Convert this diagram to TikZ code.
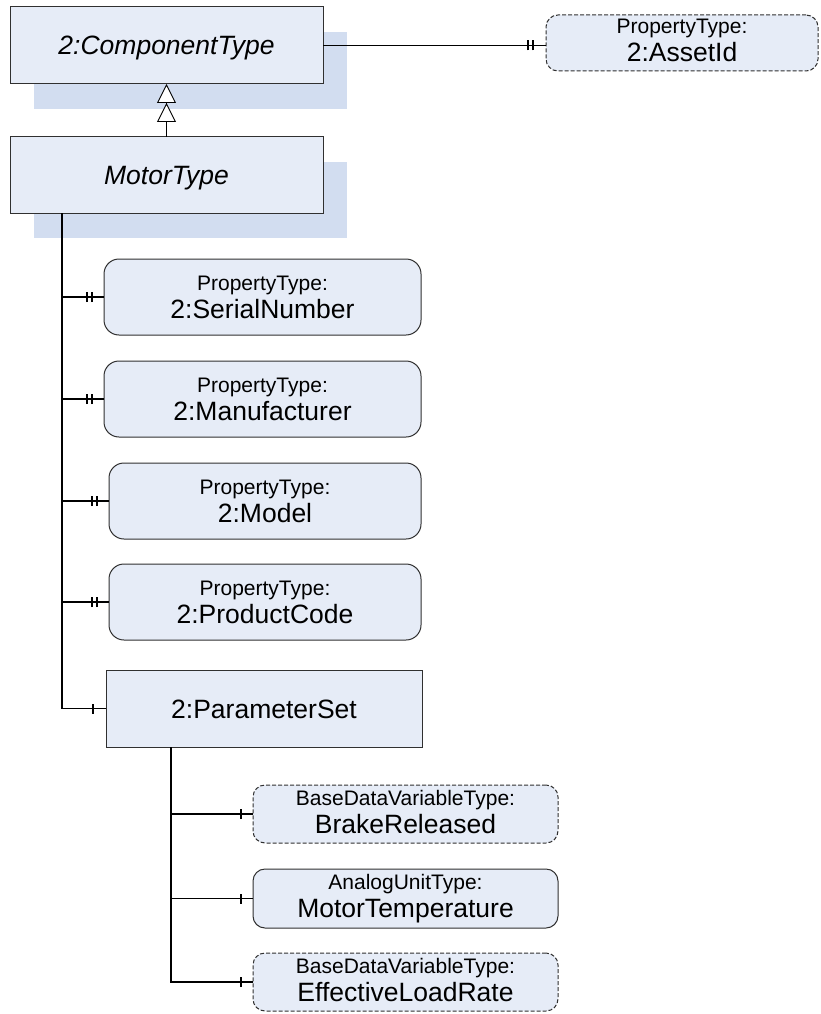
\documentclass[tikz,border=0pt]{standalone}
\usepackage{fontspec}
\setmainfont{Liberation Sans}
\usetikzlibrary{arrows.meta,shadows,decorations.markings}
\definecolor{boxc}{RGB}{230,236,247}
\definecolor{shadc}{RGB}{210,221,240}
\definecolor{bordc}{RGB}{48,48,48}
\tikzset{
  base/.style={draw=bordc, fill=boxc, line width=1pt, inner sep=0pt, outer sep=0pt, anchor=north west, align=center, text=black},
  bigfont/.style={font=\fontsize{26.5}{28}\selectfont},
  cls/.style={base, rectangle, drop shadow={shadow xshift=24pt, shadow yshift=-25pt, fill=shadc, draw=none, opacity=1}, font=\fontsize{26.5}{28}\selectfont\itshape, text height=19pt, text depth=0pt},
  plainbox/.style={base, rectangle, bigfont, text height=19pt, text depth=0pt},
  prop/.style={base, rounded corners=15pt, bigfont, text height=42pt, text depth=0pt},
  var/.style={base, rounded corners=12pt, bigfont, text height=38pt, text depth=0pt},
  opt/.style={dash pattern=on 4pt off 2pt},
  conn/.style={draw=black, line width=1.2pt},
  bar/.style={draw=black, line width=1.1pt},
  twobar/.style 2 args={postaction=decorate, decoration={markings,
      mark=at position -#1 with {\draw[bar] (0pt,-5pt) -- (0pt,5pt);},
      mark=at position -#2 with {\draw[bar] (0pt,-5pt) -- (0pt,5pt);}}},
  onebar/.style={postaction=decorate, decoration={markings,
      mark=at position -#1 with {\draw[bar] (0pt,-5pt) -- (0pt,5pt);}}},
  gentip/.style={-{Triangle[length=19pt,width=19pt,fill=white,line width=0.9pt]Triangle[length=19pt,width=19pt,fill=white,line width=0.9pt]}}
}
\newcommand{\smalltxt}[1]{{\fontsize{21}{28}\selectfont #1}}
\begin{document}
\begin{tikzpicture}[x=1pt,y=-1pt]
\useasboundingbox (0,0) rectangle (820,1014);

% classes
\node[cls, minimum width=313pt, minimum height=77pt] (comp) at (10,7) {2:ComponentType};
\node[cls, minimum width=313pt, minimum height=76pt] (motor) at (10,137) {MotorType};

% properties
\node[prop, opt, rounded corners=12pt, minimum width=272pt, minimum height=56pt, text height=38pt] (asset) at (546,15) {\smalltxt{PropertyType:}\\2:AssetId};
\node[prop, minimum width=317pt, minimum height=76pt] (serial) at (104,259) {\smalltxt{PropertyType:}\\2:SerialNumber};
\node[prop, minimum width=317pt, minimum height=76pt] (manuf) at (104,361) {\smalltxt{PropertyType:}\\2:Manufacturer};
\node[prop, minimum width=312pt, minimum height=76pt] (model) at (109,463) {\smalltxt{PropertyType:}\\2:Model};
\node[prop, minimum width=312pt, minimum height=76pt] (product) at (109,564) {\smalltxt{PropertyType:}\\2:ProductCode};
\node[plainbox, minimum width=316pt, minimum height=77pt] (pset) at (106,670) {2:ParameterSet};

% variables
\node[var, opt, minimum width=305pt, minimum height=58pt] (brake) at (253,785) {\smalltxt{BaseDataVariableType:}\\BrakeReleased};
\node[var, minimum width=305pt, minimum height=59pt] (mtemp) at (253,869) {\smalltxt{AnalogUnitType:}\\MotorTemperature};
\node[var, opt, minimum width=305pt, minimum height=58pt] (eff) at (253,953) {\smalltxt{BaseDataVariableType:}\\EffectiveLoadRate};

% generalization
\draw[conn, line width=1pt, gentip] (motor.north) -- (comp.south);

% ComponentType -> AssetId
\draw[conn, twobar={13pt}{18pt}] (comp.east) -- (comp.east -| asset.west);

% MotorType trunk
\coordinate (t1) at ([xshift=52pt]motor.south west);
\draw[conn, onebar=13pt] (t1) |- (pset.west);
\draw[conn, twobar={12pt}{17pt}] (t1 |- serial.west) -- (serial.west);
\draw[conn, twobar={12pt}{17pt}] (t1 |- manuf.west) -- (manuf.west);
\draw[conn, twobar={12pt}{17pt}] (t1 |- model.west) -- (model.west);
\draw[conn, twobar={12pt}{17pt}] (t1 |- product.west) -- (product.west);

% ParameterSet trunk
\coordinate (t2) at ([xshift=65pt]pset.south west);
\draw[conn, onebar=12pt] (t2) |- (eff.west);
\draw[conn, onebar=12pt] (t2 |- brake.west) -- (brake.west);
\draw[conn, onebar=12pt] (t2 |- mtemp.west) -- (mtemp.west);
\end{tikzpicture}
\end{document}
